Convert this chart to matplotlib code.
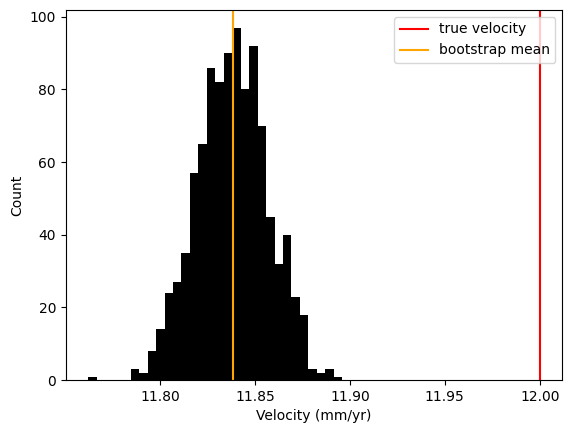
import numpy as np
import matplotlib
matplotlib.use("Agg")
import matplotlib.pyplot as plt

counts = [1, 0, 0, 0, 0, 3, 2, 8, 14, 24, 27, 35, 57, 65, 86, 82, 90, 97, 80, 92,
          70, 45, 32, 40, 23, 18, 3, 2, 3, 1]
v_min, v_max = 11.7623, 11.8960
true_velocity = 12.0
boot_mean = 11.8385

edges = np.linspace(v_min, v_max, len(counts) + 1)
centers = (edges[:-1] + edges[1:]) / 2

fig, ax = plt.subplots(figsize=(5.72, 4.33), dpi=100)
ax.hist(centers, bins=edges, weights=counts, color="black")
ax.axvline(true_velocity, color="red", label="true velocity")
ax.axvline(boot_mean, color="orange", label="bootstrap mean")
ax.set_xlabel("Velocity (mm/yr)")
ax.set_ylabel("Count")
ax.legend(loc="upper right")
fig.subplots_adjust(left=0.115, right=0.983, bottom=0.122, top=0.977)
fig.savefig("out.png")
